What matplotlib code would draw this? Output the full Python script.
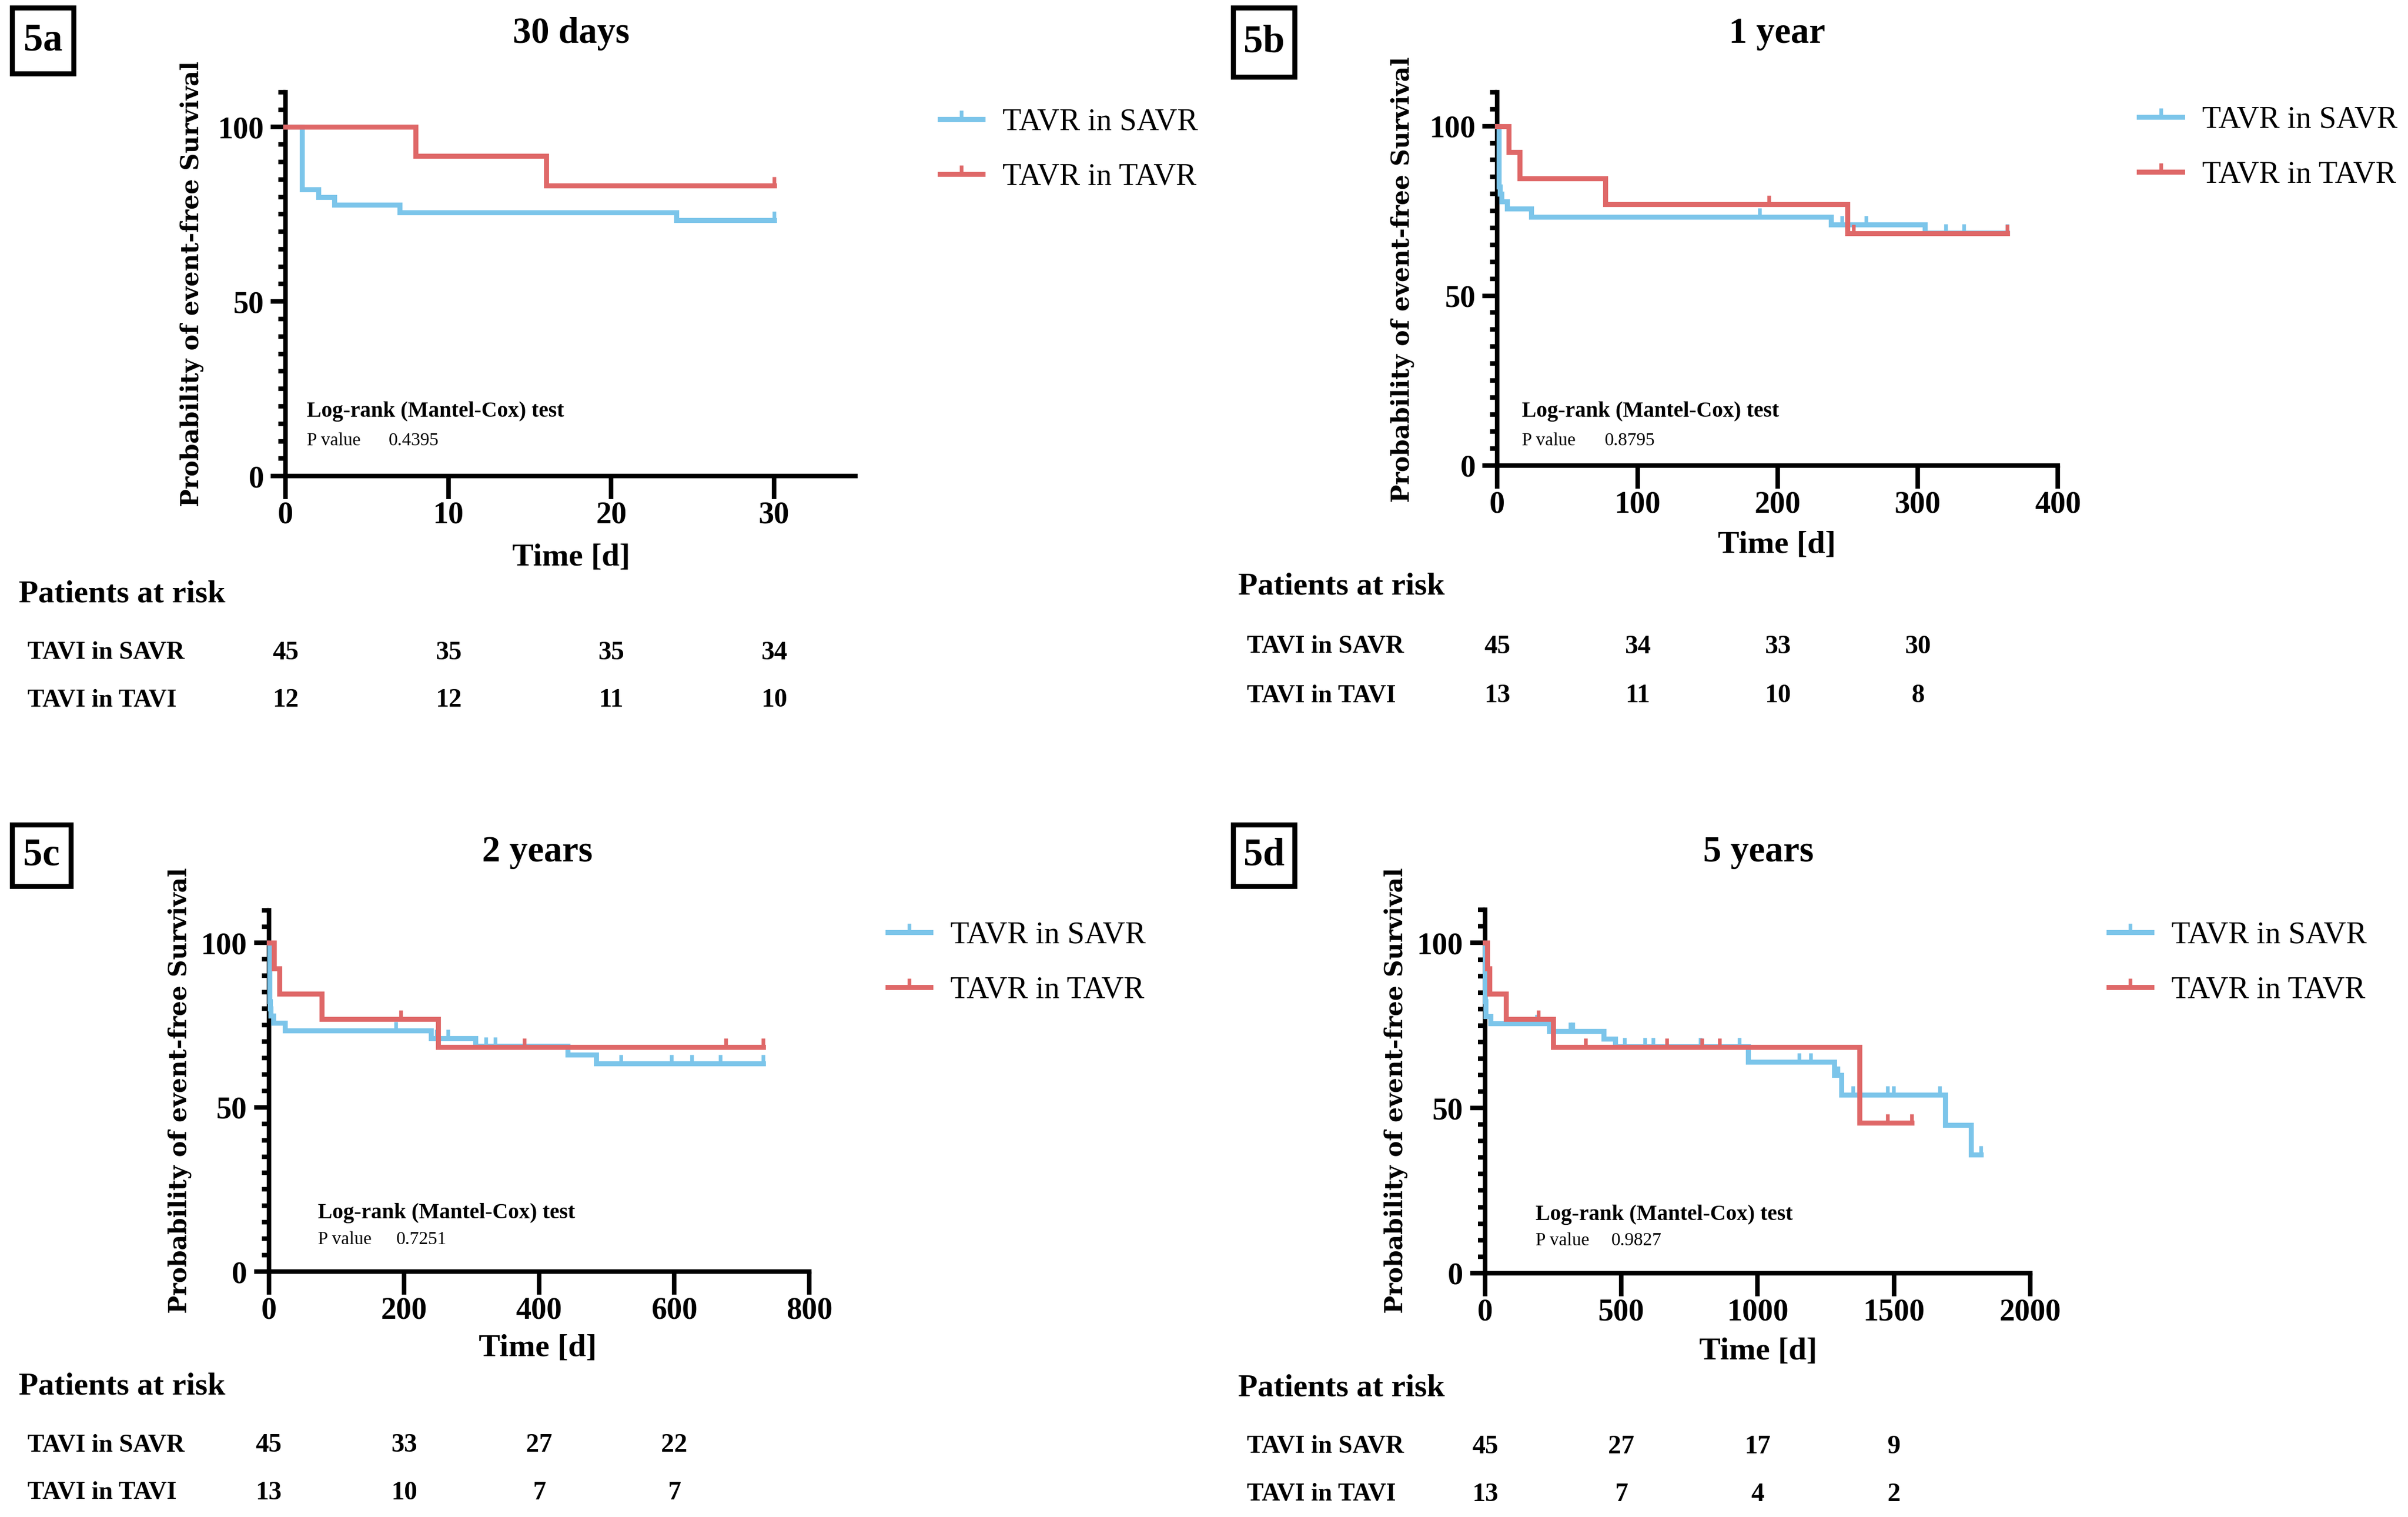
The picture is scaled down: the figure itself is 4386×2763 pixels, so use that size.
import numpy as np
import matplotlib
matplotlib.use("Agg")
import matplotlib.pyplot as plt
from matplotlib.path import Path
from matplotlib.lines import Line2D
from matplotlib.patches import Rectangle
from matplotlib.ticker import MultipleLocator, FixedLocator
import matplotlib.transforms as mtransforms

SERIF = ['Liberation Serif', 'DejaVu Serif']
plt.rcParams['font.family'] = SERIF

# ---------------- data ----------------
series_names = ['TAVR in SAVR', 'TAVR in TAVR']
risk_row_labels = ['TAVI in SAVR', 'TAVI in TAVI']
panel_ids = ['5a', '5b', '5c', '5d']
panel_titles = ['30 days', '1 year', '2 years', '5 years']
p_values = ['0.4395', '0.8795', '0.7251', '0.9827']

# 5a: 30 days
a_savr_t = [0, 1, 2, 3, 7, 24, 30]
a_savr_s = [100, 82.2, 80.0, 77.8, 75.6, 73.3, 73.3]
a_savr_c = [30]
a_tavr_t = [0, 8, 16, 30]
a_tavr_s = [100, 91.7, 83.3, 83.3]
a_tavr_c = [30]
a_xticks = [0, 10, 20, 30]
a_xmax = 35
a_risk_t = [0, 10, 20, 30]
a_risk_savr = [45, 35, 35, 34]
a_risk_tavr = [12, 12, 11, 10]

# 5b: 1 year
b_savr_t = [0, 1, 2, 3, 7, 24, 238, 305, 364]
b_savr_s = [100, 82.2, 80.0, 77.8, 75.6, 73.3, 71.0, 68.6, 68.6]
b_savr_c = [187, 246, 263, 320, 333, 364]
b_tavr_t = [0, 8, 16, 77, 250, 364]
b_tavr_s = [100, 92.3, 84.6, 76.9, 68.4, 68.4]
b_tavr_c = [194, 254, 364]
b_xticks = [0, 100, 200, 300, 400]
b_xmax = 400
b_risk_t = [0, 100, 200, 300]
b_risk_savr = [45, 34, 33, 30]
b_risk_tavr = [13, 11, 10, 8]

# 5c: 2 years
c_savr_t = [0, 1, 2, 3, 7, 24, 240, 306, 442, 485, 732]
c_savr_s = [100, 82.2, 80.0, 77.8, 75.6, 73.3, 71.0, 68.6, 66.0, 63.3, 63.3]
c_savr_c = [188, 248, 265, 321, 335, 521, 596, 626, 668, 732]
c_tavr_t = [0, 8, 16, 78, 251, 732]
c_tavr_s = [100, 92.3, 84.6, 76.9, 68.4, 68.4]
c_tavr_c = [195, 378, 676, 732]
c_xticks = [0, 200, 400, 600, 800]
c_xmax = 800
c_risk_t = [0, 200, 400, 600]
c_risk_savr = [45, 33, 27, 22]
c_risk_tavr = [13, 10, 7, 7]

# 5d: 5 years
d_savr_t = [0, 1, 2, 3, 20, 235, 436, 478, 964, 1282, 1307, 1689, 1782, 1818]
d_savr_s = [100, 82.2, 80.0, 77.8, 75.6, 73.3, 71.0, 68.6, 64.0, 60.0, 54.0, 44.9, 35.9, 35.9]
d_savr_c = [190, 252, 312, 323, 512, 586, 616, 790, 932, 1152, 1194, 1295, 1350,
            1477, 1499, 1667, 1818]
d_tavr_t = [0, 8, 16, 77, 250, 1374, 1566]
d_tavr_s = [100, 92.3, 84.6, 76.9, 68.4, 45.6, 45.6]
d_tavr_c = [195, 369, 667, 795, 861, 1477, 1566]
d_xticks = [0, 500, 1000, 1500, 2000]
d_xmax = 2000
d_risk_t = [0, 500, 1000, 1500]
d_risk_savr = [45, 27, 17, 9]
d_risk_tavr = [13, 7, 4, 2]

# ---------------- styling / layout ----------------
BLUE = '#7cc5ea'
RED = '#df6868'
LW = 2.2
SPINE_W = 2.0
CENSOR = Path([(0, 0), (0, 1)], [Path.MOVETO, Path.LINETO])

W, H = 1568.0, 987.8          # reference display units
def fx(x): return x / W
def fy(y): return 1 - y / H

fig = plt.figure(figsize=(4386 / 300, 2763 / 300), dpi=300)

# layout in reference display units (left, top, right, bottom of axes)
layout = {
    '5a': dict(ax=(186, 60, 557, 310), box=(8, 5, 48, 48), title=(372, 22),
               xlabel=(372, 363), ylabel=(125, 185), leg=(612, 80, 115),
               logrank=(200, 268, 287, 253), par=(12, 387), rows=(425, 456), rowx=18),
    '5b': dict(ax=(975, 60, 1340, 303), box=(803, 5, 843, 50), title=(1157, 22),
               xlabel=(1157, 355), ylabel=(913, 182), leg=(1393, 79, 113),
               logrank=(991, 268, 287, 1045), par=(806, 382), rows=(421, 453), rowx=812),
    '5c': dict(ax=(175, 592.6, 527, 828), box=(8, 537, 46, 577), title=(350, 555),
               xlabel=(350, 878), ylabel=(117, 710), leg=(578, 610, 644),
               logrank=(207, 790, 807, 258), par=(12, 903), rows=(941, 972), rowx=18),
    '5d': dict(ax=(967, 592.5, 1322, 829), box=(803, 537, 843, 577), title=(1145, 555),
               xlabel=(1145, 880), ylabel=(909, 710), leg=(1373, 610, 644),
               logrank=(1000, 791, 808, 1049), par=(806, 904), rows=(942, 973), rowx=812),
}

panels = [
    (a_savr_t, a_savr_s, a_savr_c, a_tavr_t, a_tavr_s, a_tavr_c, a_xticks, a_xmax,
     a_risk_t, a_risk_savr, a_risk_tavr),
    (b_savr_t, b_savr_s, b_savr_c, b_tavr_t, b_tavr_s, b_tavr_c, b_xticks, b_xmax,
     b_risk_t, b_risk_savr, b_risk_tavr),
    (c_savr_t, c_savr_s, c_savr_c, c_tavr_t, c_tavr_s, c_tavr_c, c_xticks, c_xmax,
     c_risk_t, c_risk_savr, c_risk_tavr),
    (d_savr_t, d_savr_s, d_savr_c, d_tavr_t, d_tavr_s, d_tavr_c, d_xticks, d_xmax,
     d_risk_t, d_risk_savr, d_risk_tavr),
]


def step_value(t, s, tc):
    t = np.asarray(t, float)
    s = np.asarray(s, float)
    idx = np.searchsorted(t, np.asarray(tc, float), side='right') - 1
    return s[np.clip(idx, 0, len(s) - 1)]


for pid, title, pval, data in zip(panel_ids, panel_titles, p_values, panels):
    (st, ss, sc, tt, ts, tc, xticks, xmax, rt, rs, rtv) = data
    L = layout[pid]
    l, t, r, b = L['ax']
    ax = fig.add_axes([fx(l), fy(b), fx(r) - fx(l), fy(t) - fy(b)])

    for (tx, sx, cx, col) in ((st, ss, sc, BLUE), (tt, ts, tc, RED)):
        ax.plot(tx, sx, drawstyle='steps-post', color=col, lw=LW,
                solid_joinstyle='miter', clip_on=False, zorder=3)
        ax.plot(cx, step_value(tx, sx, cx), linestyle='none', marker=CENSOR,
                ms=7.5, mew=1.6, color=col, clip_on=False, zorder=3)

    ax.set_xlim(0, xmax)
    ax.set_ylim(0, 110)
    ax.xaxis.set_major_locator(FixedLocator(xticks))
    ax.set_xticklabels([str(v) for v in xticks], fontweight='bold', fontsize=13.5)
    ax.yaxis.set_major_locator(FixedLocator([0, 50, 100]))
    ax.set_yticklabels(['0', '50', '100'], fontweight='bold', fontsize=13.5)
    ax.yaxis.set_minor_locator(MultipleLocator(5))
    for side in ('top', 'right'):
        ax.spines[side].set_visible(False)
    for side in ('left', 'bottom'):
        ax.spines[side].set_linewidth(SPINE_W)
    ax.tick_params(axis='y', which='major', length=6.5, width=SPINE_W, pad=3)
    ax.tick_params(axis='y', which='minor', length=3.2, width=SPINE_W)
    ax.tick_params(axis='x', which='major', length=10, width=SPINE_W, pad=1)
    ax.tick_params(axis='x', which='minor', length=0)

    # Log-rank annotation
    lx, ly1, ly2, vx = L['logrank']
    fig.text(fx(lx), fy(ly1), 'Log-rank (Mantel-Cox) test', fontsize=9.5,
             fontweight='bold', ha='left', va='center')
    fig.text(fx(lx), fy(ly2), 'P value', fontsize=8, ha='left', va='center')
    fig.text(fx(vx), fy(ly2), pval, fontsize=8, ha='left', va='center')

    # titles and labels
    fig.text(fx(L['title'][0]), fy(L['title'][1]), title, fontsize=16,
             fontweight='bold', ha='center', va='center')
    fig.text(fx(L['xlabel'][0]), fy(L['xlabel'][1]), 'Time [d]', fontsize=14,
             fontweight='bold', ha='center', va='center')
    fig.text(fx(L['ylabel'][0]), fy(L['ylabel'][1]), 'Probability of event-free Survival',
             fontsize=10.5, fontweight='bold', rotation=90, ha='center', va='center',
             family=['DejaVu Serif'])

    # panel id box
    bx0, by0, bx1, by1 = L['box']
    fig.add_artist(Rectangle((fx(bx0), fy(by1)), fx(bx1) - fx(bx0), fy(by0) - fy(by1),
                             transform=fig.transFigure, fill=False, ec='black', lw=2.2))
    fig.text(fx((bx0 + bx1) / 2), fy((by0 + by1) / 2), pid, fontsize=17,
             fontweight='bold', ha='center', va='center')

    # legend
    hx, hy1, hy2 = L['leg']
    handles = [Line2D([], [], color=c, lw=LW, marker=CENSOR, ms=7.5, mew=1.6)
               for c in (BLUE, RED)]
    fig.legend(handles, series_names, loc='center left',
               bbox_to_anchor=(fx(hx), fy((hy1 + hy2) / 2)),
               bbox_transform=fig.transFigure, frameon=False, borderpad=0,
               borderaxespad=0, handlelength=1.39, handletextpad=0.64,
               labelspacing=0.85, numpoints=1, prop={'size': 13.5})

    # patients at risk table
    fig.text(fx(L['par'][0]), fy(L['par'][1]), 'Patients at risk', fontsize=14,
             fontweight='bold', ha='left', va='center')
    trans = mtransforms.blended_transform_factory(ax.transData, fig.transFigure)
    for row_y, lab, vals in zip(L['rows'], risk_row_labels, (rs, rtv)):
        fig.text(fx(L['rowx']), fy(row_y), lab, fontsize=11, fontweight='bold',
                 ha='left', va='center')
        for tv, v in zip(rt, vals):
            ax.text(tv, fy(row_y), str(v), transform=trans, fontsize=11.5,
                    fontweight='bold', ha='center', va='center', clip_on=False)

fig.savefig('out.png', dpi=300)
